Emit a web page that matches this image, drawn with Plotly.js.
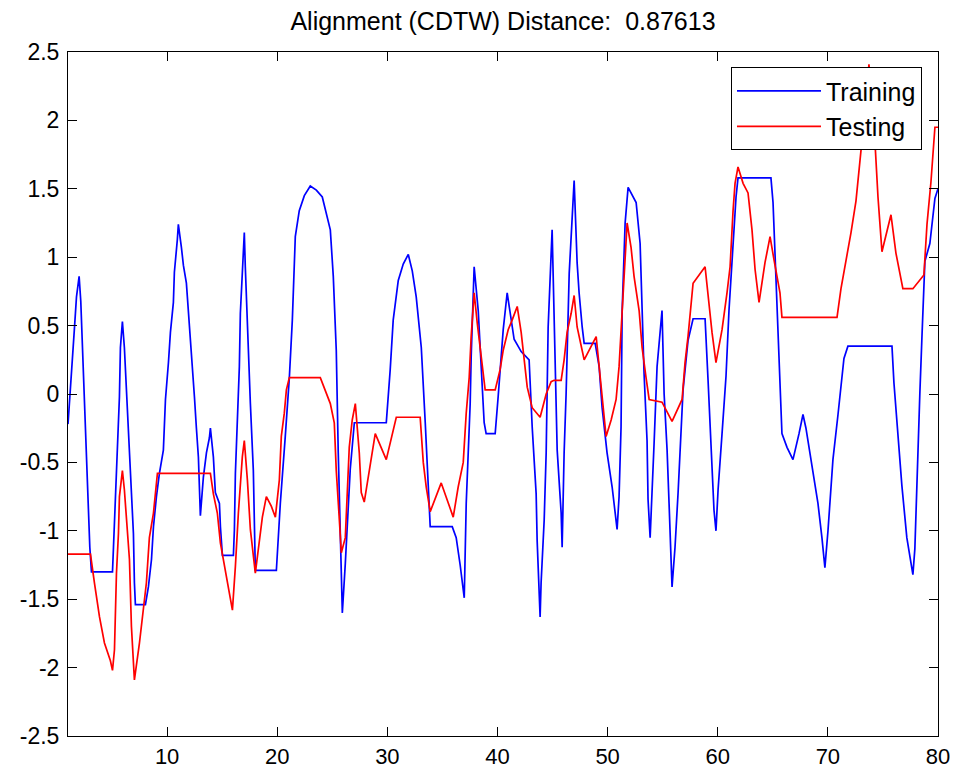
<!DOCTYPE html>
<html>
<head>
<meta charset="utf-8">
<script src="https://cdn.plot.ly/plotly-3.0.1.min.js"></script>
<style>html,body{margin:0;padding:0;background:#fff;}#chart{width:955px;height:773px;}</style>
</head>
<body>
<div id="chart"></div>
<script>
// Training (blue) series: aligned sample positions and values
const trainX = [1.0,1.2,1.4,1.6,1.77,2.01,2.16,2.31,2.52,2.68,2.83,2.98,3.13,5.04,5.13,5.31,5.49,5.67,5.76,5.94,6.12,6.31,6.49,6.76,6.94,7.03,7.12,8.03,8.30,8.58,8.76,9.03,9.30,9.66,9.85,10.12,10.30,10.57,10.66,10.93,11.02,11.30,11.48,11.75,12.02,12.20,12.48,12.66,12.84,13.02,13.29,13.57,13.84,13.93,14.20,14.38,14.75,14.84,15.02,16.02,16.11,16.20,16.38,16.56,16.65,16.92,17.01,17.10,17.29,17.56,17.83,17.92,18.01,19.92,20.28,20.73,21.10,21.37,21.64,22.00,22.46,23.00,23.55,24.09,24.45,24.82,25.09,25.36,25.54,25.73,25.91,26.18,26.63,27.00,29.90,30.26,30.53,30.99,31.44,31.90,32.26,32.62,33.08,33.44,33.71,33.89,35.89,36.25,36.61,36.98,37.16,37.52,37.61,37.88,38.25,38.52,38.79,38.97,39.79,40.06,40.52,40.88,41.15,41.51,42.15,42.87,43.15,43.51,43.60,43.87,43.96,44.24,44.42,44.60,44.96,45.14,45.42,45.78,45.87,46.05,46.23,46.51,46.78,46.96,47.23,47.41,47.69,47.87,48.87,49.23,49.50,49.95,50.41,50.86,51.04,51.22,51.32,51.59,51.86,52.59,52.95,53.13,53.31,53.58,53.67,53.86,54.04,54.22,54.49,54.94,55.13,55.40,55.58,55.85,56.12,56.40,56.85,57.30,57.76,58.85,59.12,59.48,59.66,59.84,60.03,60.39,60.75,61.02,61.39,61.66,61.84,64.83,65.02,65.20,65.38,65.56,65.74,65.83,66.29,66.83,67.38,67.74,68.01,68.46,69.10,69.46,69.73,70.01,70.46,70.92,71.19,71.46,71.82,75.82,76.00,76.36,76.72,77.17,77.72,77.90,78.17,78.35,78.53,78.81,79.26,79.72,80.0];
const trainY = [-0.22,0.0,0.25,0.5,0.71,0.86,0.68,0.32,-0.04,-0.41,-0.77,-1.12,-1.30,-1.30,-1.12,-0.75,-0.39,-0.02,0.34,0.53,0.34,0.0,-0.32,-0.72,-1.02,-1.38,-1.54,-1.54,-1.41,-1.21,-0.97,-0.75,-0.58,-0.41,-0.04,0.23,0.45,0.67,0.89,1.13,1.24,1.07,0.94,0.81,0.52,0.27,-0.02,-0.25,-0.46,-0.89,-0.61,-0.43,-0.32,-0.25,-0.46,-0.72,-0.80,-0.97,-1.18,-1.18,-0.99,-0.58,-0.21,0.20,0.59,0.98,1.18,0.93,0.45,-0.07,-0.56,-0.85,-1.29,-1.29,-0.80,-0.31,0.12,0.54,1.15,1.34,1.45,1.52,1.49,1.44,1.33,1.20,0.86,0.32,-0.43,-1.05,-1.60,-1.24,-0.55,-0.21,-0.21,0.18,0.54,0.83,0.95,1.02,0.90,0.71,0.34,-0.21,-0.68,-0.97,-0.97,-1.05,-1.25,-1.49,-0.80,-0.07,0.27,0.93,0.61,0.18,-0.21,-0.29,-0.29,-0.02,0.47,0.74,0.60,0.40,0.31,0.25,-0.24,-0.73,-1.07,-1.63,-1.38,-0.92,-0.43,0.49,1.20,0.49,-0.41,-0.87,-1.12,-0.43,0.0,0.88,1.34,1.56,0.96,0.74,0.49,0.37,0.37,0.20,-0.10,-0.43,-0.68,-0.99,-0.75,-0.24,0.61,1.25,1.51,1.40,1.10,0.61,0.15,-0.34,-0.77,-1.05,-0.63,-0.36,0.20,0.61,0.0,-0.41,-0.80,-1.41,-1.12,-0.72,0.03,0.39,0.55,0.55,0.10,-0.53,-0.85,-1.00,-0.70,-0.29,0.13,0.61,1.13,1.44,1.58,1.58,1.40,1.00,0.66,0.27,-0.07,-0.29,-0.39,-0.48,-0.29,-0.15,-0.25,-0.48,-0.80,-1.05,-1.27,-1.00,-0.48,-0.15,0.08,0.26,0.35,0.35,0.08,-0.31,-0.67,-1.05,-1.32,-1.13,-0.38,0.0,0.39,0.97,1.10,1.43,1.50];

// Testing (red) series
const testX = [1.0,3.04,3.40,3.86,4.31,4.85,5.04,5.22,5.40,5.58,5.67,5.94,6.12,6.31,6.58,6.76,7.03,7.49,7.85,8.12,8.39,8.76,9.12,13.93,14.20,14.56,14.84,15.29,15.56,15.93,16.20,16.47,16.83,17.01,17.29,17.56,18.01,18.38,18.65,19.01,19.46,19.83,20.19,20.37,20.64,20.83,21.10,23.91,24.36,24.82,25.18,25.36,25.64,25.82,26.18,26.36,26.54,26.81,27.09,27.45,27.63,27.90,28.90,29.90,30.81,32.98,33.26,33.53,33.89,34.89,35.98,36.43,36.89,37.16,37.43,37.61,37.88,38.16,38.52,38.88,39.79,40.24,40.52,40.97,41.33,41.79,42.15,42.42,42.70,43.15,43.87,44.42,44.87,45.14,45.78,46.05,46.32,46.69,46.96,47.23,47.60,47.87,48.96,49.23,49.50,49.86,50.32,50.77,51.04,51.32,51.59,51.77,52.13,52.40,52.86,53.13,53.49,53.77,54.94,55.85,56.76,57.03,57.30,57.67,57.76,58.85,59.12,59.48,59.84,60.39,60.84,61.12,61.39,61.57,61.84,62.30,62.75,63.11,63.39,63.75,64.29,64.75,65.11,65.38,65.65,65.83,70.83,71.19,71.64,72.10,72.55,73.00,73.28,73.73,74.27,74.55,74.91,75.73,76.18,76.81,77.72,78.72,79.00,79.36,79.72,80.0];
const testY = [-1.17,-1.17,-1.38,-1.63,-1.82,-1.95,-2.02,-1.87,-1.31,-1.02,-0.75,-0.56,-0.70,-0.92,-1.21,-1.70,-2.09,-1.82,-1.58,-1.38,-1.05,-0.87,-0.58,-0.58,-0.73,-0.87,-1.09,-1.29,-1.43,-1.58,-1.26,-0.87,-0.46,-0.34,-0.63,-0.99,-1.31,-1.07,-0.90,-0.75,-0.82,-0.90,-0.63,-0.31,-0.14,0.03,0.12,0.12,0.03,-0.07,-0.21,-0.56,-0.92,-1.16,-1.05,-0.75,-0.39,-0.19,-0.07,-0.43,-0.72,-0.79,-0.29,-0.48,-0.17,-0.17,-0.50,-0.68,-0.86,-0.65,-0.90,-0.68,-0.50,-0.14,0.12,0.42,0.74,0.52,0.27,0.03,0.03,0.18,0.32,0.47,0.54,0.64,0.45,0.25,0.05,-0.10,-0.17,0.00,0.09,0.10,0.10,0.25,0.45,0.59,0.72,0.49,0.34,0.25,0.42,0.20,-0.04,-0.31,-0.19,-0.04,0.20,0.61,0.98,1.25,1.07,0.86,0.61,0.34,0.12,-0.04,-0.06,-0.20,-0.04,0.23,0.42,0.74,0.81,0.93,0.71,0.45,0.23,0.47,0.74,0.93,1.34,1.54,1.66,1.54,1.47,1.20,0.91,0.67,0.96,1.15,0.98,0.86,0.74,0.56,0.56,0.77,0.97,1.18,1.41,1.75,2.00,2.41,1.85,1.44,1.04,1.31,1.03,0.77,0.77,0.87,1.24,1.55,1.95,1.95];

const seriesNames = ['Training', 'Testing'];
const chartTitle = 'Alignment (CDTW) Distance:  0.87613';
const xTickVals = [10, 20, 30, 40, 50, 60, 70, 80];
const xTickText = ['10', '20', '30', '40', '50', '60', '70', '80'];
const yTickVals = [-2.5, -2, -1.5, -1, -0.5, 0, 0.5, 1, 1.5, 2, 2.5];
const yTickText = ['-2.5', '-2', '-1.5', '-1', '-0.5', '0', '0.5', '1', '1.5', '2', '2.5'];

const FONT = 'Liberation Sans, Arial, Helvetica, sans-serif';

const traces = [
  {x: trainX, y: trainY, name: seriesNames[0], type: 'scatter', mode: 'lines',
   line: {color: '#0000ff', width: 1.7}},
  {x: testX, y: testY, name: seriesNames[1], type: 'scatter', mode: 'lines',
   line: {color: '#ff0000', width: 1.7}}
];

const axisCommon = {
  showgrid: false, zeroline: false, showline: true, mirror: 'ticks',
  linecolor: '#000', linewidth: 1, ticks: 'inside', ticklen: 9, tickwidth: 1, tickcolor: '#000',
  tickfont: {family: FONT, size: 22, color: '#000'}, tickmode: 'array'
};

const layout = {
  width: 955, height: 773,
  margin: {l: 68, r: 17, t: 52, b: 37},
  paper_bgcolor: '#fff', plot_bgcolor: '#fff',
  title: {text: chartTitle, font: {family: FONT, size: 25, color: '#000'},
          x: 0.5, xref: 'paper', xanchor: 'center', y: 0.973, yref: 'container', yanchor: 'middle'},
  xaxis: Object.assign({}, axisCommon, {range: [1, 80], tickvals: xTickVals, ticktext: xTickText, ticklabelstandoff: 1}),
  yaxis: Object.assign({}, axisCommon, {range: [-2.5, 2.5], tickvals: yTickVals, ticktext: yTickText, ticklabelstandoff: 3,
          tickfont: {family: FONT, size: 23, color: '#000'}}),
  showlegend: true,
  legend: {x: 0.9816, xanchor: 'right', y: 0.978, yanchor: 'top', bgcolor: '#fff',
           bordercolor: '#000', borderwidth: 1, font: {family: FONT, size: 25, color: '#000'},
           itemwidth: 84, tracegroupgap: 0}
};

Plotly.newPlot('chart', traces, layout, {staticPlot: true, displayModeBar: false});
</script>
</body>
</html>
